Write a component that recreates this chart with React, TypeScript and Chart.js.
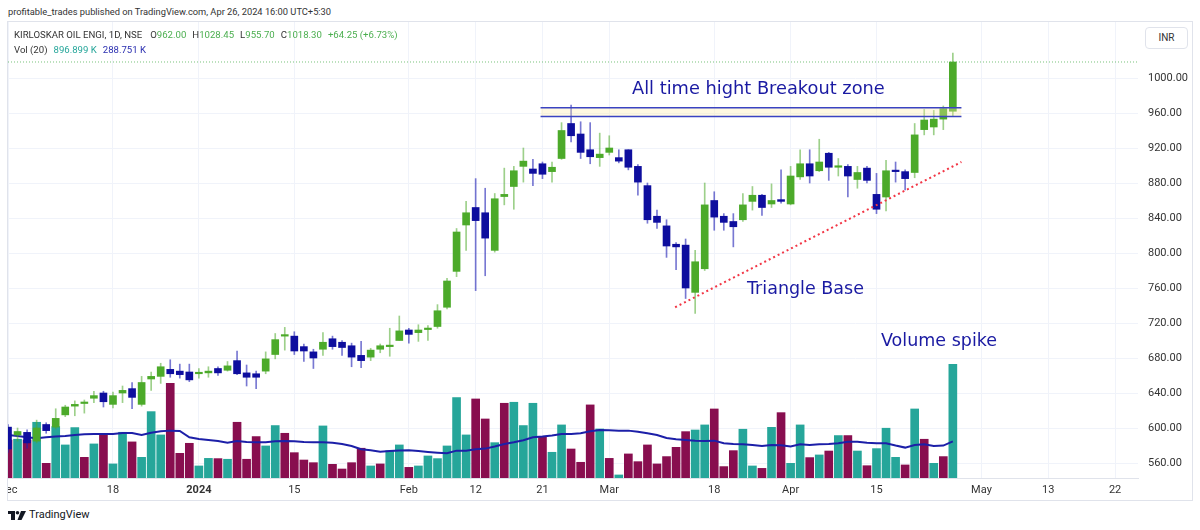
import React, { useEffect, useRef } from 'react';
import { Chart, registerables } from 'chart.js';

Chart.register(...registerables);

const FONT = 'Roboto, "Liberation Sans", Arial, sans-serif';
const NOTE_FONT = '"DejaVu Sans", Verdana, sans-serif';

// Daily bars, NSE trading days 1 Dec 2023 .. 26 Apr 2024 (index 0..99)
const opens = [
  601, 592, 595, 585, 604, 601, 615, 625, 628, 634,
  640, 627, 640, 645, 627, 656, 659, 667, 665, 664,
  662, 663, 668, 666, 677, 663, 662, 665, 684, 705,
  705, 693, 687, 690, 702, 698, 694, 683, 681, 690,
  693, 700, 712, 709, 712.5, 716, 738, 779, 832, 852,
  846, 803, 864.5, 876, 899, 896, 902, 893, 908, 948,
  936, 918, 909, 915, 909, 918, 899, 877, 842, 831,
  810, 809, 755, 782, 860, 842, 836, 838, 859, 866,
  856, 861, 856, 887, 902, 894, 914, 898, 899, 884,
  897, 867, 864, 894, 893, 892, 941, 944, 953, 962,
];
const highs = [
  604, 600, 598, 609, 606, 622, 626, 631, 632, 642,
  642, 641, 648, 652, 659, 664, 674, 678, 673, 673,
  668, 670, 670, 676, 688, 672, 665, 687, 708, 715,
  710, 696, 690, 709, 705, 700, 697, 699, 691, 696,
  714, 728, 714, 718, 717, 741, 771, 828, 859, 885,
  874, 868, 897, 899, 920, 907, 904, 904, 949, 969,
  950, 949, 937, 934, 918, 918, 901, 880, 849, 838,
  812, 816, 803, 880, 870, 845, 845, 868, 876, 867,
  879, 895, 899, 918, 918, 930, 915, 908, 901, 899,
  899, 891, 906, 904, 895, 948, 964, 963, 968, 1028.45,
];
const lows = [
  572, 585, 577, 583, 594, 599, 613, 614, 617, 629,
  624, 623, 629, 622, 625, 643, 651, 658, 657, 653,
  657, 658, 660, 665, 661, 648, 645, 662, 679, 689,
  684, 676, 668, 683, 690, 683, 670, 669, 677, 686,
  682, 700, 697, 699, 700, 714, 736, 773, 803, 757,
  774, 801, 855, 850, 881, 877, 885, 881, 907, 927,
  908, 902, 899, 912, 903, 895, 866, 834, 828, 795,
  781, 748, 731, 780, 826, 826, 807, 836, 849, 843,
  852, 857, 855, 884, 880, 893, 883, 888, 864, 874,
  880, 845, 848, 881, 872, 886, 935, 935, 941, 955.7,
];
const closes = [
  576, 596, 583, 600, 597, 611, 624, 627, 629, 637,
  630, 637, 643, 635, 652, 659, 670, 662, 661, 655,
  663, 665, 663, 671, 662, 658, 658, 679, 701, 706,
  688, 688, 680, 698, 693, 692, 681, 677, 689, 694,
  694, 711, 707, 712, 713, 734, 768, 824, 846, 837,
  817, 862, 867, 894, 905, 891, 890, 898, 940, 934,
  915, 910, 913, 920, 905, 898, 881, 838, 835, 808,
  807, 760, 790, 855, 841, 835, 830, 855, 866, 852,
  860, 859, 888, 902, 888, 904, 898, 899, 888, 892,
  883, 850, 894, 893, 885, 935, 952, 953, 965, 1018.3,
];
// Volume in thousands, and whether each volume bar is drawn as an up bar
const volumes = [
  300, 306, 300, 440, 116, 406, 261, 398, 163, 269,
  348, 111, 361, 285, 163, 524, 340, 748, 195, 274,
  95, 155, 153, 148, 440, 148, 327, 253, 414, 353,
  200, 142, 121, 411, 108, 71, 121, 235, 95, 111,
  216, 261, 84, 95, 174, 153, 253, 635, 340, 624,
  466, 279, 590, 598, 414, 590, 327, 203, 419, 229,
  124, 577, 387, 155, 24, 190, 129, 261, 111, 169,
  242, 366, 379, 419, 545, 90, 216, 385, 95, 76,
  400, 516, 116, 419, 161, 182, 213, 335, 335, 213,
  97, 232, 393, 163, 103, 545, 306, 116, 169, 896.899,
];
const volumeUp = [
  0, 1, 0, 1, 0, 1, 1, 1, 0, 1,
  0, 1, 1, 0, 1, 1, 1, 0, 0, 0,
  1, 1, 0, 1, 0, 0, 0, 1, 1, 0,
  0, 0, 0, 1, 0, 0, 0, 0, 1, 0,
  1, 1, 0, 1, 1, 1, 1, 1, 1, 0,
  0, 1, 0, 1, 1, 1, 0, 1, 1, 0,
  0, 0, 1, 0, 1, 0, 0, 0, 0, 0,
  0, 0, 1, 1, 0, 0, 0, 1, 1, 0,
  1, 0, 1, 1, 0, 1, 0, 1, 0, 1,
  0, 1, 1, 1, 0, 1, 0, 1, 0, 1,
];
// Vol (20) moving average, in thousands, as drawn
const volumeMA = [
  340, 332, 321, 314, 321, 327, 332, 340, 345, 348,
  348, 348, 356, 356, 340, 358, 369, 374, 372, 321,
  308, 300, 292, 279, 292, 285, 282, 282, 290, 292,
  290, 285, 282, 282, 279, 269, 253, 227, 219, 208,
  213, 218, 219, 213, 206, 200, 195, 216, 216, 227,
  232, 248, 269, 282, 298, 321, 327, 335, 348, 348,
  353, 369, 379, 377, 374, 374, 366, 353, 340, 316,
  306, 300, 295, 292, 295, 274, 269, 266, 261, 253,
  261, 258, 248, 266, 261, 266, 269, 274, 287, 287,
  279, 274, 274, 256, 240, 261, 266, 253, 256, 288.751,
];

const timeTickIndex = [0, 11, 20, 30, 42, 49, 56, 63, 74, 82, 91, 102, 109, 116];
const timeTickLabels = ['Dec', '18', '2024', '15', 'Feb', '12', '21', 'Mar', '18', 'Apr', '15', 'May', '13', '22'];
const priceTicks = [560, 600, 640, 680, 720, 760, 800, 840, 880, 920, 960, 1000];

// Drawings (bar index, price)
const zoneStart = 55.8;
const zoneEnd = 99.9;
const zoneHigh = 966;
const zoneLow = 956;
const triangleFrom = { x: 69.9, y: 738 };
const triangleTo = { x: 99.9, y: 904 };
const lastClose = 1018.3;

const X_MIN = 0;
const X_MAX = 118.4;
const PRICE_MIN = 542.86;
const PRICE_MAX = 1064;
const VOL_MAX = 3600;

const GREEN = '#4caa2a';
const GREEN_WICK = 'rgba(76,170,42,0.55)';
const BLUE = '#0e0e9e';
const BLUE_WICK = 'rgba(30,30,180,0.6)';
const TEAL = '#26a69a';
const MAROON = '#880e4f';

function CandleChart() {
  const ref = useRef<HTMLCanvasElement | null>(null);

  useEffect(() => {
    if (!ref.current) return;
    const idx = opens.map((_, i) => i);
    const up = (i: number) => closes[i] >= opens[i];

    const chart = new Chart(ref.current, {
      type: 'bar',
      data: {
        datasets: [
          {
            type: 'line',
            data: [{ x: X_MIN, y: lastClose }, { x: X_MAX, y: lastClose }],
            borderColor: 'rgba(76,175,80,0.75)',
            borderWidth: 1,
            borderDash: [1, 2],
            pointRadius: 0,
            order: 0,
          } as any,
          {
            type: 'line',
            data: [triangleFrom, triangleTo],
            borderColor: '#f23645',
            borderWidth: 2,
            borderDash: [2, 3],
            pointRadius: 0,
            order: 1,
          } as any,
          {
            type: 'line',
            data: [{ x: zoneStart, y: zoneHigh }, { x: zoneEnd, y: zoneHigh }],
            borderColor: '#3a43c2',
            borderWidth: 1.5,
            pointRadius: 0,
            order: 2,
          } as any,
          {
            type: 'line',
            data: [{ x: zoneStart, y: zoneLow }, { x: zoneEnd, y: zoneLow }],
            borderColor: '#3a43c2',
            borderWidth: 1.5,
            pointRadius: 0,
            fill: '-1',
            backgroundColor: 'rgba(255,238,170,0.35)',
            order: 2,
          } as any,
          {
            type: 'bar',
            data: idx.map((i) => ({ x: i, y: [opens[i], closes[i]] })),
            backgroundColor: idx.map((i) => (up(i) ? GREEN : BLUE)),
            barThickness: 7,
            minBarLength: 1.5,
            grouped: false,
            borderWidth: 0,
            yAxisID: 'y',
            order: 4,
          } as any,
          {
            type: 'bar',
            data: idx.map((i) => ({ x: i, y: [lows[i], highs[i]] })),
            backgroundColor: idx.map((i) => (up(i) ? GREEN_WICK : BLUE_WICK)),
            barThickness: 1,
            grouped: false,
            borderWidth: 0,
            yAxisID: 'y',
            order: 5,
          } as any,
          {
            type: 'line',
            data: idx.map((i) => ({ x: i, y: volumeMA[i] })),
            borderColor: '#1c1fa8',
            borderWidth: 2,
            pointRadius: 0,
            yAxisID: 'yv',
            order: 8,
          } as any,
          {
            type: 'bar',
            data: idx.map((i) => ({ x: i, y: volumes[i] })),
            backgroundColor: idx.map((i) => (volumeUp[i] ? TEAL : MAROON)),
            barThickness: 8,
            grouped: false,
            borderWidth: 0,
            yAxisID: 'yv',
            order: 10,
          } as any,
        ],
      },
      options: {
        animation: false,
        responsive: false,
        maintainAspectRatio: false,
        events: [],
        layout: { padding: 0 },
        plugins: {
          legend: { display: false },
          tooltip: { enabled: false },
        },
        scales: {
          x: {
            type: 'linear',
            min: X_MIN,
            max: X_MAX,
            offset: false,
            grid: { color: '#f0f3fa', drawTicks: false, offset: false },
            border: { display: true, color: '#e0e3eb' },
            ticks: {
              autoSkip: false,
              maxRotation: 0,
              padding: 6,
              color: '#333',
              font: (ctx: any) => ({
                family: FONT,
                size: 11,
                weight: ctx.tick && ctx.tick.value === 20 ? 'bold' : 'normal',
              }),
              callback: (v: any) => {
                const k = timeTickIndex.indexOf(Number(v));
                return k >= 0 ? timeTickLabels[k] : '';
              },
            },
            afterBuildTicks: (s: any) => {
              s.ticks = timeTickIndex.map((v) => ({ value: v }));
            },
            afterFit: (s: any) => {
              s.height = 22;
              s.paddingLeft = 0;
              s.paddingRight = 0;
            },
          },
          y: {
            type: 'linear',
            position: 'right',
            min: PRICE_MIN,
            max: PRICE_MAX,
            beginAtZero: false,
            grid: { color: '#f0f3fa', drawTicks: false },
            border: { display: false },
            ticks: {
              padding: 10,
              color: '#333',
              font: { family: FONT, size: 11 },
              callback: (v: any) => Number(v).toFixed(2),
            },
            afterBuildTicks: (s: any) => {
              s.ticks = priceTicks.map((v) => ({ value: v }));
            },
            afterFit: (s: any) => {
              s.width = 53;
              s.paddingTop = 0;
              s.paddingBottom = 0;
            },
          },
          yv: {
            type: 'linear',
            display: false,
            min: 0,
            max: VOL_MAX,
            beginAtZero: true,
          },
        },
      } as any,
    });
    return () => chart.destroy();
  }, []);

  return (
    <canvas
      ref={ref}
      width={1183}
      height={478}
      style={{ position: 'absolute', left: 8, top: 22, width: 1183, height: 478, display: 'block' }}
    />
  );
}

const abs = (left: number, top: number, extra: React.CSSProperties = {}): React.CSSProperties => ({
  position: 'absolute',
  left,
  top,
  whiteSpace: 'nowrap',
  ...extra,
});

export default function App() {
  const legendGreen = '#4caf50';
  const sp = { marginLeft: 6 };
  return (
    <div
      style={{
        position: 'fixed',
        left: 0,
        top: 0,
        width: 1200,
        height: 530,
        background: '#ffffff',
        fontFamily: FONT,
        color: '#131722',
        overflow: 'hidden',
      }}
    >
      <div style={abs(8, 6, { fontSize: 9.3, color: '#333' })}>
        profitable_trades published on TradingView.com, Apr 26, 2024 16:00 UTC+5:30
      </div>
      <div
        style={abs(7, 21, {
          width: 1184,
          height: 478,
          border: '1px solid #e0e3eb',
        })}
      />
      <CandleChart />
      <div style={abs(14, 29, { fontSize: 9.6, color: '#333' })}>
        <span>KIRLOSKAR OIL ENGI, 1D, NSE</span>
        <span style={{ marginLeft: 8 }}>O</span>
        <span style={{ color: legendGreen }}>962.00</span>
        <span style={sp}>H</span>
        <span style={{ color: legendGreen }}>1028.45</span>
        <span style={sp}>L</span>
        <span style={{ color: legendGreen }}>955.70</span>
        <span style={sp}>C</span>
        <span style={{ color: legendGreen }}>1018.30</span>
        <span style={{ ...sp, color: legendGreen }}>+64.25 (+6.73%)</span>
      </div>
      <div style={abs(14, 44, { fontSize: 9.6, color: '#333' })}>
        <span>Vol (20)</span>
        <span style={{ marginLeft: 6, color: TEAL }}>896.899 K</span>
        <span style={{ marginLeft: 6, color: '#2a2eb0' }}>288.751 K</span>
      </div>
      <div
        style={abs(1145, 27, {
          width: 41,
          height: 20,
          border: '1px solid #e0e3eb',
          borderRadius: 4,
          fontSize: 10,
          lineHeight: '20px',
          textAlign: 'center',
          color: '#333',
          background: '#fff',
        })}
      >
        INR
      </div>
      <div style={abs(632, 77, { fontSize: 17.8, fontFamily: NOTE_FONT, color: '#1a1aa2' })}>
        All time hight Breakout zone
      </div>
      <div style={abs(747, 278, { fontSize: 17.5, fontFamily: NOTE_FONT, color: '#1a1aa2' })}>
        Triangle Base
      </div>
      <div style={abs(881, 330, { fontSize: 17.5, fontFamily: NOTE_FONT, color: '#1a1aa2' })}>
        Volume spike
      </div>
      <svg style={abs(8, 511)} width={18} height={10} viewBox="0 0 18 10">
        <rect x={0} y={0} width={7} height={3} fill="#131722" />
        <rect x={3} y={0} width={4} height={9} fill="#131722" />
        <circle cx={9.5} cy={1.8} r={1.8} fill="#131722" />
        <polygon points="13,0 18,0 13.5,9 9.5,9" fill="#131722" />
      </svg>
      <div style={abs(29, 508, { fontSize: 11, color: '#131722' })}>TradingView</div>
    </div>
  );
}
